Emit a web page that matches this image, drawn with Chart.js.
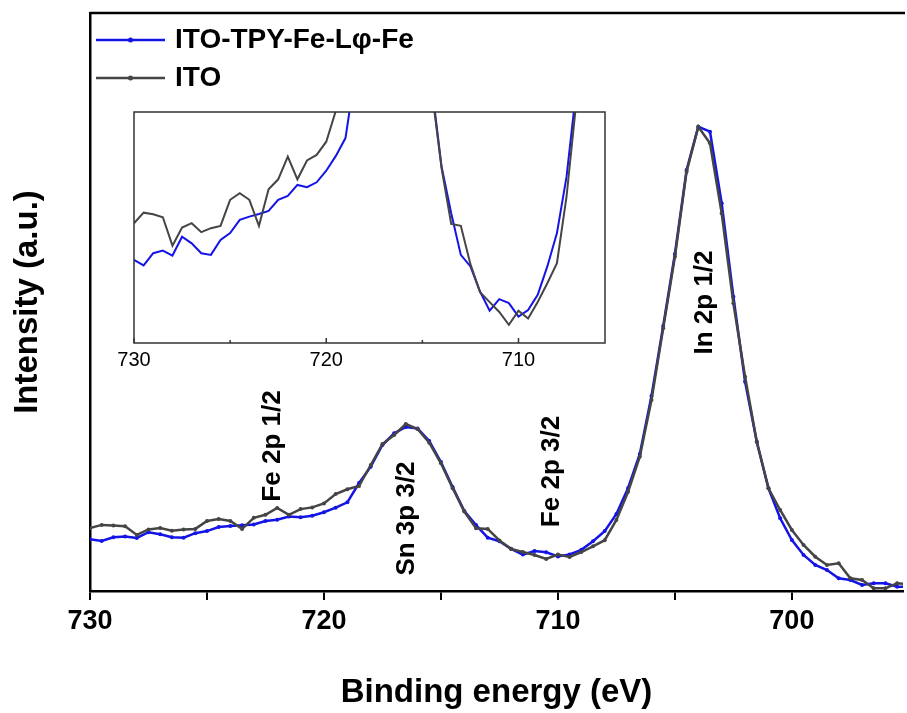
<!DOCTYPE html>
<html>
<head>
<meta charset="utf-8">
<script src="https://cdn.jsdelivr.net/npm/chart.js@4.4.1/dist/chart.umd.min.js"></script>
<style>
  html, body { margin: 0; padding: 0; background: #fff; }
  #wrap { position: relative; width: 907px; height: 713px; overflow: hidden; }
  #main { position: absolute; left: 0; top: 0; }
  #inset { position: absolute; left: 110px; top: 100px; }
</style>
</head>
<body>
<div id="wrap">
  <canvas id="main" width="907" height="713"></canvas>
  <canvas id="inset" width="520" height="290"></canvas>
</div>
<script>
// Binding energy (eV), 0.5 eV steps
const energy = [
  730, 729.5, 729, 728.5, 728, 727.5, 727, 726.5, 726, 725.5,
  725, 724.5, 724, 723.5, 723, 722.5, 722, 721.5, 721, 720.5,
  720, 719.5, 719, 718.5, 718, 717.5, 717, 716.5, 716, 715.5,
  715, 714.5, 714, 713.5, 713, 712.5, 712, 711.5, 711, 710.5,
  710, 709.5, 709, 708.5, 708, 707.5, 707, 706.5, 706, 705.5,
  705, 704.5, 704, 703.5, 703, 702.5, 702, 701.5, 701, 700.5,
  700, 699.5, 699, 698.5, 698, 697.5, 697, 696.5, 696, 695.5,
  695
];

// Intensity (a.u.)
const itoTpyFe = [
  51.8, 50.1, 53.8, 54.6, 53.1, 58.8, 56.8, 53.8, 53.3, 57.8,
  59.9, 63.9, 64.9, 65.7, 66.6, 70.0, 71.2, 74.5, 73.8, 75.3,
  78.8, 83.3, 88.7, 108.0, 124.3, 146.0, 157.7, 164.0, 162.5, 150.0,
  129.0, 104.0, 80.0, 65.9, 53.3, 49.8, 42.2, 36.4, 39.9, 38.7,
  34.6, 36.6, 41.2, 49.8, 59.9, 77.0, 103.0, 137.0, 195.0, 265.0,
  337.0, 421.0, 464.3, 459.3, 387.7, 294.3, 209.3, 149.3, 102.7, 72.7,
  51.0, 36.0, 26.0, 21.0, 12.7, 11.0, 6.0, 7.7, 7.7, 4.3,
  4.0
];

const ito = [
  62.9, 66.1, 65.6, 64.7, 56.1, 61.6, 62.9, 60.2, 61.4, 62.1,
  70.0, 72.0, 70.0, 62.1, 73.2, 76.2, 83.1, 76.2, 81.9, 83.6,
  87.6, 97.0, 101.7, 105.0, 126.0, 147.0, 156.0, 167.0, 162.0, 148.3,
  127.7, 102.7, 79.5, 62.7, 62.1, 50.5, 42.0, 39.0, 36.0, 32.1,
  36.4, 34.0, 39.0, 44.7, 50.8, 71.0, 99.3, 134.3, 191.0, 262.7,
  334.3, 419.3, 464.3, 447.7, 377.7, 287.7, 214.3, 149.3, 102.7, 81.0,
  61.0, 46.0, 34.3, 26.0, 27.7, 12.7, 11.0, 2.7, 2.7, 7.7,
  7.0
];

const seriesNames = ['ITO-TPY-Fe-L\u03C6-Fe', 'ITO'];
const xTickLabels = [730, 720, 710, 700];
const insetTickLabels = [730, 720, 710];
const peakNames = ['Fe 2p 1/2', 'Sn 3p 3/2', 'Fe 2p 3/2', 'In 2p 1/2'];

const FONT = '"Liberation Sans", Arial, Helvetica, sans-serif';
const BLUE = '#1414e6';
const GREY = '#454545';

function points(values) {
  return energy.map((e, i) => ({ x: e, y: values[i] }));
}

// where the peak names sit: [energy, intensity] of the baseline centre
const peakSpots = [[721.87, 145], [716.17, 72.5], [709.96, 119.5], [703.4, 288.5]];

const mainDecor = {
  id: 'mainDecor',
  afterDraw(chart) {
    const { ctx, chartArea: a, scales: { x, y } } = chart;
    ctx.save();
    // top frame line
    ctx.strokeStyle = '#000';
    ctx.lineWidth = 2.5;
    ctx.beginPath();
    ctx.moveTo(a.left, a.top);
    ctx.lineTo(a.right + 2, a.top);
    ctx.stroke();

    // legend
    chart.data.datasets.forEach((ds, i) => {
      const ly = 40 + i * 38;
      ctx.strokeStyle = ds.borderColor;
      ctx.lineWidth = 2.5;
      ctx.beginPath();
      ctx.moveTo(96, ly);
      ctx.lineTo(165, ly);
      ctx.stroke();
      ctx.fillStyle = ds.borderColor;
      ctx.beginPath();
      ctx.arc(130.5, ly, 2.5, 0, Math.PI * 2);
      ctx.fill();
      ctx.fillStyle = '#000';
      ctx.font = 'bold 28px ' + FONT;
      ctx.textAlign = 'left';
      ctx.textBaseline = 'middle';
      ctx.fillText(ds.label, 175, ly);
    });

    // peak names, rotated
    ctx.font = 'bold 26px ' + FONT;
    ctx.fillStyle = '#000';
    ctx.textAlign = 'center';
    ctx.textBaseline = 'alphabetic';
    peakNames.forEach((name, i) => {
      const px = x.getPixelForValue(peakSpots[i][0]);
      const py = y.getPixelForValue(peakSpots[i][1]);
      ctx.save();
      ctx.translate(px, py);
      ctx.rotate(-Math.PI / 2);
      ctx.fillText(name, 0, 0);
      ctx.restore();
    });
    ctx.restore();
  }
};

new Chart(document.getElementById('main'), {
  type: 'line',
  data: {
    datasets: [
      {
        label: seriesNames[0],
        data: points(itoTpyFe),
        borderColor: BLUE,
        backgroundColor: BLUE,
        borderWidth: 2.5,
        pointRadius: 2,
        pointBorderWidth: 0,
        pointBackgroundColor: BLUE,
        tension: 0,
        order: 1
      },
      {
        label: seriesNames[1],
        data: points(ito),
        borderColor: GREY,
        backgroundColor: GREY,
        borderWidth: 2.5,
        pointRadius: 2,
        pointBorderWidth: 0,
        pointBackgroundColor: GREY,
        tension: 0,
        order: 0
      }
    ]
  },
  options: {
    responsive: false,
    animation: false,
    layout: { padding: { top: 13, right: 0, bottom: 0, left: 0 } },
    plugins: { legend: { display: false }, tooltip: { enabled: false } },
    scales: {
      x: {
        type: 'linear',
        reverse: true,
        min: 695.25,
        max: 730,
        afterFit: s => { s.height = 122; },
        border: { display: true, color: '#000', width: 2.5 },
        grid: { drawOnChartArea: false, drawTicks: true, tickLength: 9, color: '#000', lineWidth: 2 },
        ticks: {
          stepSize: 5,
          includeBounds: false,
          autoSkip: false,
          maxRotation: 0,
          padding: 5,
          color: '#000',
          font: { family: FONT, size: 27, weight: 'bold' },
          callback: v => xTickLabels.includes(v) ? String(v) : ''
        },
        title: {
          display: true,
          text: 'Binding energy (eV)',
          color: '#000',
          font: { family: FONT, size: 33, weight: 'bold' },
          padding: { top: 0, bottom: 0 }
        }
      },
      y: {
        min: 0,
        max: 578,
        afterFit: s => { s.width = 90; },
        border: { display: true, color: '#000', width: 2.5 },
        grid: { display: false },
        ticks: { display: false },
        title: {
          display: true,
          text: 'Intensity (a.u.)',
          color: '#000',
          font: { family: FONT, size: 33, weight: 'bold' },
          padding: { top: 8, bottom: 0 }
        }
      }
    }
  },
  plugins: [mainDecor]
});

// inset: box plus inward tick marks
const insetFrame = {
  id: 'insetFrame',
  afterDraw(chart) {
    const { ctx, chartArea: a, scales: { x } } = chart;
    ctx.save();
    ctx.strokeStyle = '#333';
    ctx.lineWidth = 1.5;
    ctx.strokeRect(a.left, a.top, a.right - a.left, a.bottom - a.top);
    x.ticks.forEach(t => {
      const px = x.getPixelForValue(t.value);
      const len = t.value % 10 === 0 ? 5 : 3;
      ctx.beginPath();
      ctx.moveTo(px, a.bottom);
      ctx.lineTo(px, a.bottom - len);
      ctx.stroke();
    });
    ctx.restore();
  }
};

new Chart(document.getElementById('inset'), {
  type: 'line',
  data: {
    datasets: [
      { label: seriesNames[0], data: points(itoTpyFe), borderColor: BLUE, borderWidth: 2, pointRadius: 0, tension: 0, order: 1 },
      { label: seriesNames[1], data: points(ito), borderColor: GREY, borderWidth: 2, pointRadius: 0, tension: 0, order: 0 }
    ]
  },
  options: {
    responsive: false,
    animation: false,
    layout: { padding: { top: 12, right: 25, bottom: 0, left: 24 } },
    plugins: { legend: { display: false }, tooltip: { enabled: false } },
    scales: {
      x: {
        type: 'linear',
        reverse: true,
        min: 705.5,
        max: 730,
        afterFit: s => { s.height = 47; },
        border: { display: false },
        grid: { display: false },
        ticks: {
          stepSize: 5,
          includeBounds: false,
          autoSkip: false,
          maxRotation: 0,
          padding: -3,
          color: '#000',
          font: { family: FONT, size: 20 },
          callback: v => insetTickLabels.includes(v) ? String(v) : ''
        }
      },
      y: { display: false, min: 26.6, max: 96.6 }
    }
  },
  plugins: [insetFrame]
});
</script>
</body>
</html>
